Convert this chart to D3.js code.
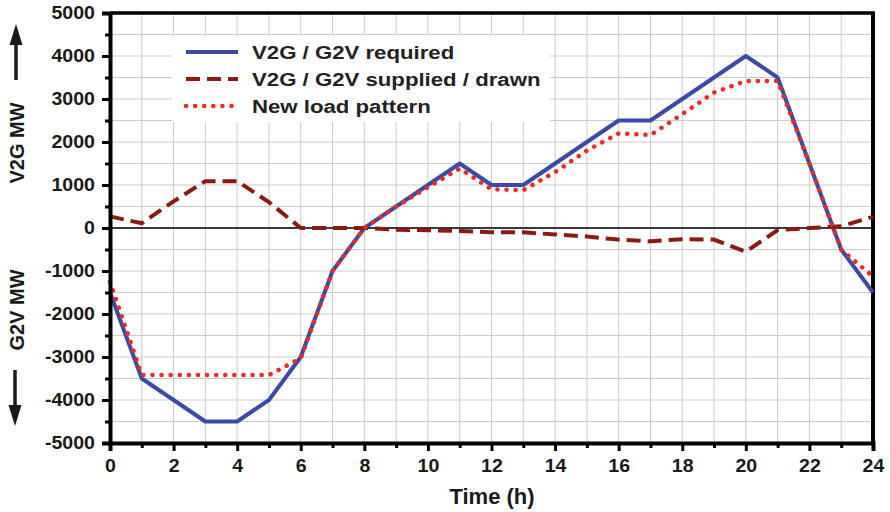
<!DOCTYPE html>
<html>
<head>
<meta charset="utf-8">
<script src="https://cdn.jsdelivr.net/npm/d3@7/dist/d3.min.js"></script>
<style>
  html, body { margin: 0; padding: 0; background: #fff; }
  svg { display: block; font-family: "Liberation Sans", Arial, sans-serif; }
</style>
</head>
<body>
<svg id="chart" width="890" height="512"></svg>
<script>
// Hourly V2G / G2V profile (MW), hours 0..24
const hours = d3.range(0, 25);
const required = [-1500, -3500, -4000, -4500, -4500, -4000, -3000, -1000, 0, 500, 1000, 1500, 1000, 1000, 1500, 2000, 2500, 2500, 3000, 3500, 4000, 3500, 1500, -500, -1500];
const supplied = [270, 110, 620, 1090, 1090, 600, 0, 0, 0, -40, -50, -70, -100, -100, -150, -200, -270, -310, -260, -270, -550, -50, 0, 40, 260];
const newLoad = [-1250, -3420, -3420, -3420, -3420, -3420, -3030, -1000, 0, 500, 950, 1380, 900, 880, 1300, 1800, 2200, 2160, 2650, 3150, 3420, 3420, 1500, -500, -1130];

const seriesNames = ["V2G / G2V required", "V2G / G2V supplied / drawn", "New load pattern"];
const xTicks = d3.range(0, 25, 2);
const yTicks = d3.range(-5000, 5001, 1000);

const W = 890, H = 512;
const m = { left: 110, right: 17, top: 13, bottom: 69 };
const svg = d3.select("#chart");

const x = d3.scaleLinear().domain([0, 24]).range([m.left, W - m.right]);
const y = d3.scaleLinear().domain([-5000, 5000]).range([H - m.bottom, m.top]);

const ink = "#1a1a1a";

// grid
const grid = svg.append("g").attr("stroke", "#cbcbcb").attr("stroke-width", 1);
d3.range(1, 24).forEach(h => grid.append("line")
  .attr("x1", x(h)).attr("x2", x(h)).attr("y1", y(5000)).attr("y2", y(-5000)));
d3.range(-4500, 5000, 500).forEach(v => grid.append("line")
  .attr("x1", x(0)).attr("x2", x(24)).attr("y1", y(v)).attr("y2", y(v)));

// legend background
const leg = svg.append("g");
leg.append("rect").attr("x", 172).attr("y", 35).attr("width", 378).attr("height", 87).attr("fill", "#fff");

// zero line
svg.append("line").attr("x1", x(0)).attr("x2", x(24)).attr("y1", y(0)).attr("y2", y(0))
  .attr("stroke", "#000").attr("stroke-width", 1.6);

// frame: top and right borders
svg.append("line").attr("x1", x(0)).attr("x2", x(24) + 2).attr("y1", y(5000)).attr("y2", y(5000))
  .attr("stroke", "#000").attr("stroke-width", 3.5);
svg.append("line").attr("x1", x(24)).attr("x2", x(24)).attr("y1", y(5000)).attr("y2", y(-5000))
  .attr("stroke", "#000").attr("stroke-width", 4);

const line = vals => d3.line().x((d, i) => x(hours[i])).y(d => y(d))(vals);

const styles = [
  { stroke: "#3b4aa8", dash: null, cap: "butt", w: 4 },
  { stroke: "#8a1a12", dash: "14,7", cap: "butt", w: 4 },
  { stroke: "#ee2a22", dash: "0.1,9", cap: "round", w: 4.5 }
];
[required, supplied, newLoad].forEach((vals, i) => {
  svg.append("path").attr("d", line(vals)).attr("fill", "none")
    .attr("stroke", styles[i].stroke).attr("stroke-width", styles[i].w)
    .attr("stroke-linejoin", "round").attr("stroke-linecap", styles[i].cap)
    .attr("stroke-dasharray", styles[i].dash);
});

// axes
const labelStyle = sel => sel
  .attr("font-size", 17.5).attr("font-weight", "bold").attr("fill", ink)
  .attr("font-family", "'Liberation Sans', Arial, sans-serif");

const yAxis = svg.append("g").attr("transform", `translate(${x(0)},0)`)
  .call(d3.axisLeft(y).tickValues(yTicks).tickFormat(d => String(d)).tickSize(8).tickPadding(6));
yAxis.select(".domain").attr("stroke", "#000").attr("stroke-width", 4);
yAxis.selectAll(".tick line").attr("stroke", "#000").attr("stroke-width", 3);
yAxis.selectAll("text").call(labelStyle).attr("x", 0)
  .attr("transform", "translate(-15,0) scale(1.12,1)");

const yMinor = svg.append("g").attr("transform", `translate(${x(0)},0)`)
  .call(d3.axisLeft(y).tickValues(d3.range(-4500, 5000, 1000)).tickFormat("").tickSize(5));
yMinor.select(".domain").remove();
yMinor.selectAll(".tick line").attr("stroke", "#000").attr("stroke-width", 3);

const xAxis = svg.append("g").attr("transform", `translate(0,${y(-5000)})`)
  .call(d3.axisBottom(x).tickValues(xTicks).tickSize(8).tickPadding(9));
xAxis.select(".domain").attr("stroke", "#000").attr("stroke-width", 4);
xAxis.selectAll(".tick line").attr("stroke", "#000").attr("stroke-width", 3);
xAxis.selectAll("text").call(labelStyle).attr("transform", "scale(1.12,1)");

const xMinor = svg.append("g").attr("transform", `translate(0,${y(-5000)})`)
  .call(d3.axisBottom(x).tickValues(d3.range(1, 24, 2)).tickFormat("").tickSize(5));
xMinor.select(".domain").remove();
xMinor.selectAll(".tick line").attr("stroke", "#000").attr("stroke-width", 3);

// axis titles
svg.append("text").attr("x", 492).attr("y", 504)
  .attr("text-anchor", "middle").attr("font-size", 22).attr("font-weight", "bold")
  .attr("fill", ink).text("Time (h)");

svg.append("text").attr("transform", `translate(24,143) rotate(-90)`)
  .attr("text-anchor", "middle").attr("font-size", 20).attr("font-weight", "bold")
  .attr("fill", ink).text("V2G MW");
svg.append("text").attr("transform", `translate(24,310) rotate(-90)`)
  .attr("text-anchor", "middle").attr("font-size", 20).attr("font-weight", "bold")
  .attr("fill", ink).text("G2V MW");

// direction arrows
const arrows = svg.append("g").attr("fill", ink).attr("stroke", ink);
arrows.append("line").attr("x1", 16).attr("x2", 16).attr("y1", 40).attr("y2", 80).attr("stroke-width", 3.5);
arrows.append("path").attr("d", "M16,24 L9.5,45 L22.5,45 Z").attr("stroke", "none");
arrows.append("line").attr("x1", 15).attr("x2", 15).attr("y1", 370).attr("y2", 410).attr("stroke-width", 3.5);
arrows.append("path").attr("d", "M15,426 L8.5,405 L21.5,405 Z").attr("stroke", "none");

// legend entries
seriesNames.forEach((name, i) => {
  const yy = 52 + i * 27;
  leg.append("line").attr("x1", 186).attr("x2", 238).attr("y1", yy).attr("y2", yy)
    .attr("stroke", styles[i].stroke).attr("stroke-width", styles[i].w)
    .attr("stroke-linecap", styles[i].cap)
    .attr("stroke-dasharray", styles[i].dash);
  leg.append("text").attr("transform", `translate(252,${yy + 6.5}) scale(1.2,1)`)
    .attr("font-size", 18.5).attr("font-weight", "bold").attr("fill", "#222").text(name);
});
</script>
</body>
</html>
